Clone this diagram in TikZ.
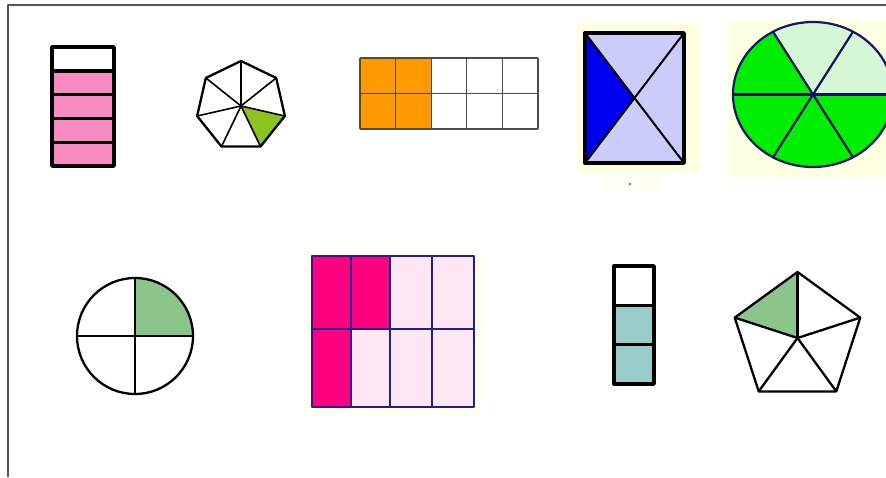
\documentclass[tikz,border=0pt]{standalone}
\usepackage{xcolor}
\usepackage{tikz}
\definecolor{cRosa}{HTML}{F58BBE}
\definecolor{cLima}{HTML}{8CC31E}
\definecolor{cLaranja}{HTML}{FF9900}
\definecolor{cLilas}{HTML}{CCCCFA}
\definecolor{cAzulForte}{HTML}{0000F0}
\definecolor{cVerdeVivo}{HTML}{00EE00}
\definecolor{cVerdeClaro}{HTML}{D6F7D6}
\definecolor{cVerdeSuave}{HTML}{8CC58C}
\definecolor{cMagenta}{HTML}{FF0080}
\definecolor{cRosaClaro}{HTML}{FFE6F4}
\definecolor{cMarinho}{HTML}{1E1E96}
\definecolor{cTurquesa}{HTML}{99CCC8}
\definecolor{cFundo}{HTML}{FFFFE2}
\definecolor{cFundoLeve}{HTML}{FFFFF2}
\definecolor{cMoldura}{HTML}{555555}

\begin{document}
\begin{tikzpicture}[
  x=1pt,y=-1pt,line join=round,
  grosso/.style={draw=black,line width=3.4pt},
  contorno/.style={draw=black,line width=2.3pt},
  traco/.style={draw=black,line width=1.6pt},
  grade/.style={draw=black!70,line width=1.1pt},
  azul/.style={draw=cMarinho,line width=2.2pt},
  moldura/.style={draw=cMoldura,line width=1.2pt}
]
\useasboundingbox (0,0) rectangle (886,477);
\fill[white] (0,0) rectangle (886,477);

% ---- moldura
\draw[moldura] (8,477) -- (8,5) -- (886,5);

% ---- barra rosa (4/5)
\draw[grosso,fill=white] (52,47) rectangle (114,70.8);
\foreach \i in {1,...,4}
  \draw[grosso,fill=cRosa] (52,{47+23.8*\i}) rectangle (114,{70.8+23.8*\i});

% ---- heptagono (1/7)
\begin{scope}[shift={(241,106)}]
  \fill[cLima] (0,0) -- ({-(90+4*360/7)}:45) -- ({-(90+5*360/7)}:45) -- cycle;
  \foreach \k in {0,...,6}
    \draw[traco] (0,0) -- ({-(90+\k*360/7)}:45);
  \draw[contorno] (-90:45) \foreach \k in {1,...,6}{ -- ({-(90+\k*360/7)}:45)} -- cycle;
\end{scope}

% ---- grade laranja (4/10)
\fill[cLaranja] (360,58) rectangle (431.2,129);
\foreach \i in {0,...,5}
  \draw[grade] ({360+35.6*\i},58) -- ({360+35.6*\i},129);
\draw[grade] (360,58) -- (538,58) (360,93.5) -- (538,93.5) (360,129) -- (538,129);

% ---- retangulo com diagonais (1/4)
\fill[cFundo] (577,22) rectangle (700,173);
\fill[cFundoLeve] (600,176) rectangle (662,190);
\fill[cLilas] (585,33) rectangle (684,163);
\fill[cAzulForte] (585,33) -- (634.5,98) -- (585,163) -- cycle;
\draw[traco,line width=2pt] (585,33) -- (684,163) (585,163) -- (684,33);
\draw[grosso] (585,33) rectangle (684,163);
\fill[black!70] (630,184) circle (1.2);

% ---- circulo verde (4/6)
\fill[cFundo] (728,20) rectangle (886,177);
\begin{scope}[shift={(813,94.5)}]
  \fill[cVerdeVivo] (0,0) ellipse [x radius=80,y radius=72.5];
  \fill[cVerdeClaro] (0,0) -- (0:80 and 72.5)
     arc[start angle=0,end angle=-120,x radius=80,y radius=72.5] -- cycle;
  \draw[azul,draw=cMarinho!70!black] (0,0) ellipse [x radius=80,y radius=72.5];
  \foreach \a in {0,60,120}
    \draw[azul,draw=cMarinho!60!black] (\a:80 and 72.5) -- (\a+180:80 and 72.5);
\end{scope}

% ---- circulo em quartos (1/4)
\fill[cVerdeSuave] (135,336) -- (193,336) arc[start angle=0,end angle=-90,radius=58] -- cycle;
\draw[contorno] (135,336) circle (58);
\draw[contorno] (77,336) -- (193,336) (135,278) -- (135,394);

% ---- grade magenta (3/8)
\fill[cFundoLeve] (306,250) rectangle (481,414);
\fill[cRosaClaro] (312,256) rectangle (474,407);
\fill[cMagenta] (312,256) rectangle (390,329);
\fill[cMagenta] (312,329) rectangle (351,407);
\foreach \xa in {351,390,432}
  \draw[azul,line width=1.8pt] (\xa,256) -- (\xa,407);
\draw[azul,line width=1.8pt] (312,329) -- (474,329);
\draw[azul] (312,256) rectangle (474,407);

% ---- barra turquesa (2/3)
\draw[grosso,fill=white] (614,266) rectangle (654,305.3);
\draw[grosso,fill=cTurquesa] (614,305.3) rectangle (654,344.7);
\draw[grosso,fill=cTurquesa] (614,344.7) rectangle (654,384);

% ---- pentagono (1/5)
\begin{scope}[shift={(797.5,338)}]
  \fill[cVerdeSuave] (0,0) -- (-90:66) -- (-162:66) -- cycle;
  \foreach \k in {0,...,4}
    \draw[contorno] (0,0) -- ({-(90+72*\k)}:66);
  \draw[contorno] (-90:66) \foreach \k in {1,...,4}{ -- ({-(90+72*\k)}:66)} -- cycle;
\end{scope}
\end{tikzpicture}
\end{document}
